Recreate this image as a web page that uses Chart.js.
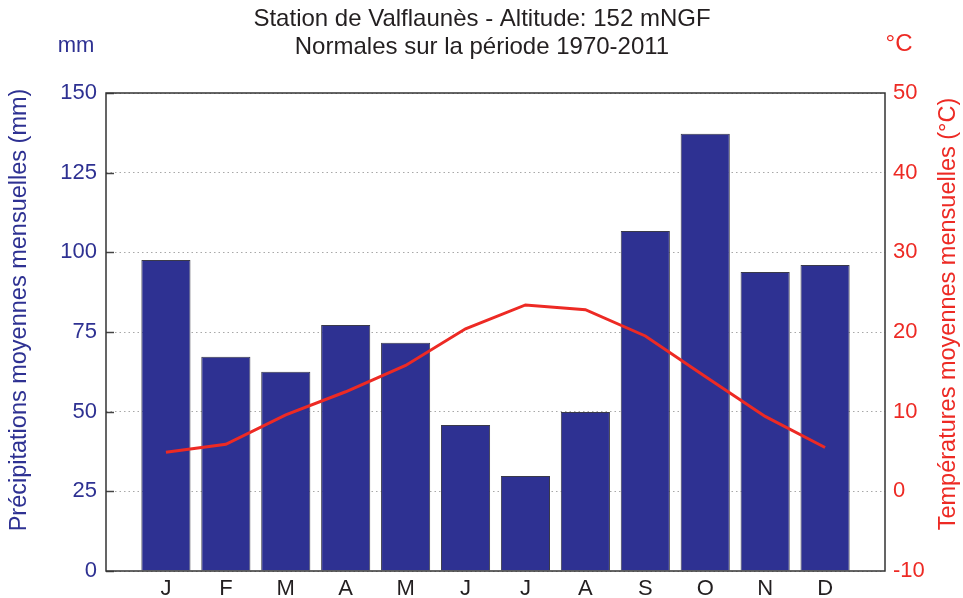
<!DOCTYPE html>
<html lang="fr">
<head>
    <meta charset="UTF-8">
    <title>Station de Valflaunès - Normales 1970-2011</title>
    <script src="https://cdn.jsdelivr.net/npm/chart.js"></script>
    <style>
        html, body { margin: 0; padding: 0; background: #fff; }
        .chart-box { width: 963px; height: 598px; position: relative; }
    </style>
</head>
<body>
    <div class="chart-box">
        <canvas id="climChart"></canvas>
    </div>
    <script>
        // values
        const months = ['J', 'F', 'M', 'A', 'M', 'J', 'J', 'A', 'S', 'O', 'N', 'D'];
        const precipitation = [97.6, 67.2, 62.5, 77.2, 71.6, 45.8, 29.8, 49.9, 106.7, 137.2, 93.8, 96.0];
        const temperature = [4.9, 5.9, 9.6, 12.5, 15.8, 20.4, 23.4, 22.8, 19.5, 14.4, 9.4, 5.5];
        const precipRange = [0, 150, 25];
        const tempRange = [-10, 50, 10];
        const titleLines = ['Station de Valflaunès - Altitude: 152 mNGF', 'Normales sur la période 1970-2011'];

        const NAVY = '#2E3192';
        const RED = '#ED2A24';
        const FONT = '"Liberation Sans", Arial, sans-serif';

        // empty slot at each end so the months sit at 1..12 of a 0..13 axis
        const labels = [''].concat(months, ['']);
        const pad = arr => [null].concat(arr, [null]);

        const decorations = {
            id: 'decorations',
            afterDraw(chart) {
                const c = chart.ctx;
                const area = chart.chartArea;
                const yScale = chart.scales.y;
                c.save();

                // inner tick marks on the left axis
                c.strokeStyle = '#444';
                c.lineWidth = 1.5;
                yScale.ticks.forEach(t => {
                    const py = Math.round(yScale.getPixelForValue(t.value)) + 0.5;
                    c.beginPath();
                    c.moveTo(area.left, py);
                    c.lineTo(area.left + 8, py);
                    c.stroke();
                });

                // frame
                c.strokeStyle = '#333';
                c.lineWidth = 1.5;
                c.strokeRect(area.left, area.top, area.right - area.left, area.bottom - area.top);

                // title
                c.fillStyle = '#231F20';
                c.font = '24px ' + FONT;
                c.textAlign = 'center';
                c.textBaseline = 'middle';
                c.fillText(titleLines[0], 482, 19);
                c.fillText(titleLines[1], 482, 47);

                // units
                c.font = '22px ' + FONT;
                c.fillStyle = NAVY;
                c.fillText('mm', 76, 46);
                c.font = '24px ' + FONT;
                c.fillStyle = RED;
                c.fillText('°C', 899, 44);

                // axis titles, both read bottom to top
                c.font = '23.5px ' + FONT;
                c.fillStyle = NAVY;
                c.save();
                c.translate(20, 310);
                c.rotate(-Math.PI / 2);
                c.fillText('Précipitations moyennes mensuelles (mm)', 0, 0);
                c.restore();

                c.fillStyle = RED;
                c.save();
                c.translate(949, 314);
                c.rotate(-Math.PI / 2);
                c.fillText('Températures moyennes mensuelles (°C)', 0, 0);
                c.restore();

                c.restore();
            }
        };

        const ctx = document.getElementById('climChart').getContext('2d');
        const climChart = new Chart(ctx, {
            data: {
                labels: labels,
                datasets: [{
                    type: 'line',
                    label: 'Température',
                    data: pad(temperature),
                    yAxisID: 'y1',
                    borderColor: RED,
                    borderWidth: 3,
                    pointRadius: 0,
                    tension: 0,
                    spanGaps: false,
                    order: 0
                }, {
                    type: 'bar',
                    label: 'Précipitations',
                    data: pad(precipitation),
                    yAxisID: 'y',
                    backgroundColor: NAVY,
                    borderColor: '#3a3a4a',
                    borderWidth: 1,
                    categoryPercentage: 0.82,
                    barPercentage: 1,
                    order: 1
                }]
            },
            options: {
                responsive: true,
                maintainAspectRatio: false,
                animation: false,
                layout: { padding: { top: 93, left: 0, right: 0, bottom: 0 } },
                plugins: {
                    legend: { display: false },
                    title: { display: false },
                    tooltip: { enabled: false }
                },
                scales: {
                    x: {
                        type: 'category',
                        offset: false,
                        grid: { display: false, drawTicks: false },
                        border: { display: false },
                        ticks: {
                            color: '#231F20',
                            font: { family: FONT, size: 22 },
                            padding: 5,
                            autoSkip: false,
                            maxRotation: 0
                        },
                        afterFit(scale) { scale.height = 27; }
                    },
                    y: {
                        position: 'left',
                        min: precipRange[0],
                        max: precipRange[1],
                        ticks: {
                            stepSize: precipRange[2],
                            color: NAVY,
                            font: { family: FONT, size: 22 },
                            padding: 9
                        },
                        grid: { color: '#a8a8a8', lineWidth: 1, drawTicks: false },
                        border: { display: false, dash: [1.5, 3] },
                        afterFit(scale) { scale.width = 106; }
                    },
                    y1: {
                        position: 'right',
                        min: tempRange[0],
                        max: tempRange[1],
                        ticks: {
                            stepSize: tempRange[2],
                            color: RED,
                            font: { family: FONT, size: 22 },
                            padding: 8
                        },
                        grid: { display: false, drawTicks: false },
                        border: { display: false },
                        afterFit(scale) { scale.width = 78; }
                    }
                }
            },
            plugins: [decorations]
        });
    </script>
</body>
</html>
